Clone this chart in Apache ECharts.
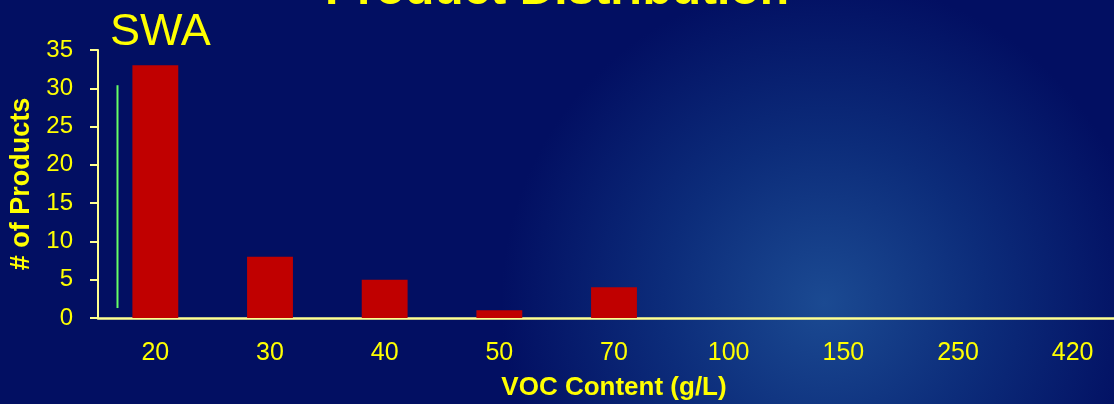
<!DOCTYPE html>
<html>
<head>
<meta charset="utf-8">
<script src="https://cdn.jsdelivr.net/npm/echarts@6/dist/echarts.min.js"></script>
<style>
  html, body { margin: 0; padding: 0; }
  #main { width: 1114px; height: 404px; }
</style>
</head>
<body>
<div id="main"></div>
<script>
// 数据
var categories = ['20', '30', '40', '50', '70', '100', '150', '250', '420'];
var productCounts = [33, 8, 5, 1, 4, 0, 0, 0, 0];
var yTicks = [0, 5, 10, 15, 20, 25, 30, 35];
// 左边那条绿色竖线 (x 为类目位置, y 为数值)
var greenLine = [[0.17, 1.3], [0.17, 30.4]];

(function () {
  var myChart = echarts.init(document.getElementById('main'));
  var yellow = '#ffff00';
  var axisColor = '#ffff90';
  var font = 'Liberation Sans, Arial, sans-serif';

  var option = {
    backgroundColor: {
      type: 'radial',
      x: 0.74, y: 0.75, r: 0.8,
      colorStops: [
        { offset: 0, color: '#1b4a92' },
        { offset: 0.5, color: '#0c2c7a' },
        { offset: 1, color: '#020f62' }
      ]
    },
    title: [
      {
        text: 'Product Distribution',
        left: 'center',
        top: -38,
        textStyle: { color: yellow, fontSize: 48, fontWeight: 'bold', fontFamily: font }
      },
      {
        text: 'SWA',
        left: 105,
        top: 5,
        textStyle: { color: yellow, fontSize: 45, fontWeight: 'normal', fontFamily: font }
      }
    ],
    grid: {
      left: 98,
      right: -16,
      top: 50,
      bottom: 86,
      outerBoundsMode: 'none',
      containLabel: false
    },
    xAxis: [
      {
        type: 'category',
        data: categories,
        name: 'VOC Content (g/L)',
        nameLocation: 'middle',
        nameGap: 57,
        nameTextStyle: { color: yellow, fontSize: 26, fontWeight: 'bold', fontFamily: font },
        axisTick: { show: false },
        axisLine: { lineStyle: { color: axisColor, width: 2.5 } },
        axisLabel: { color: yellow, fontSize: 25, margin: 23, fontFamily: font },
        splitLine: { show: false }
      },
      {
        // 隐藏的数值轴，用于绿色竖线
        type: 'value',
        min: 0,
        max: categories.length,
        show: false
      }
    ],
    yAxis: {
      type: 'value',
      min: yTicks[0],
      max: yTicks[yTicks.length - 1],
      interval: 5,
      name: '# of Products',
      nameLocation: 'middle',
      nameRotate: 90,
      nameGap: 62,
      nameTextStyle: { color: yellow, fontSize: 27, fontWeight: 'bold', fontFamily: font },
      axisLine: { show: true, lineStyle: { color: axisColor, width: 2 } },
      axisTick: { show: true, length: 8, lineStyle: { color: axisColor, width: 2 } },
      axisLabel: { color: yellow, fontSize: 24, margin: 25, fontFamily: font },
      splitLine: { show: false }
    },
    series: [
      {
        name: 'Products',
        type: 'bar',
        data: productCounts,
        barWidth: '40%',
        itemStyle: { color: '#c00000' },
        z: 2
      },
      {
        name: 'marker',
        type: 'line',
        xAxisIndex: 1,
        data: greenLine,
        symbol: 'none',
        lineStyle: { color: '#66ff66', width: 2 },
        silent: true,
        z: 3
      }
    ]
  };

  myChart.setOption(option);
  window.addEventListener('resize', function () {
    myChart.resize();
  });
})();
</script>
</body>
</html>
